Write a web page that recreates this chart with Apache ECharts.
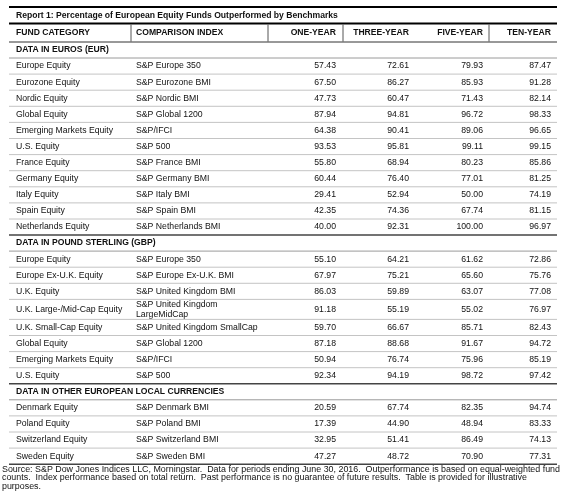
<!DOCTYPE html>
<html>
<head>
<meta charset="utf-8">
<script src="https://cdn.jsdelivr.net/npm/echarts@6/dist/echarts.min.js"></script>
<style>html,body{margin:0;padding:0;background:#fff}#c{width:566px;height:496px}</style>
</head>
<body>
<div id="c"></div>
<script>
// ---------------- DATA ----------------
const reportTitle = "Report 1: Percentage of European Equity Funds Outperformed by Benchmarks";
const columnHeaders = ["FUND CATEGORY", "COMPARISON INDEX", "ONE-YEAR", "THREE-YEAR", "FIVE-YEAR", "TEN-YEAR"];
const sectionTitles = ["DATA IN EUROS (EUR)", "DATA IN POUND STERLING (GBP)", "DATA IN OTHER EUROPEAN LOCAL CURRENCIES"];
const sectionSizes = [11, 8, 4];
const fundCategories = [
  "Europe Equity", "Eurozone Equity", "Nordic Equity", "Global Equity", "Emerging Markets Equity", "U.S. Equity",
  "France Equity", "Germany Equity", "Italy Equity", "Spain Equity", "Netherlands Equity",
  "Europe Equity", "Europe Ex-U.K. Equity", "U.K. Equity", "U.K. Large-/Mid-Cap Equity", "U.K. Small-Cap Equity",
  "Global Equity", "Emerging Markets Equity", "U.S. Equity",
  "Denmark Equity", "Poland Equity", "Switzerland Equity", "Sweden Equity"
];
const comparisonIndex = [
  "S&P Europe 350", "S&P Eurozone BMI", "S&P Nordic BMI", "S&P Global 1200", "S&P/IFCI", "S&P 500",
  "S&P France BMI", "S&P Germany BMI", "S&P Italy BMI", "S&P Spain BMI", "S&P Netherlands BMI",
  "S&P Europe 350", "S&P Europe Ex-U.K. BMI", "S&P United Kingdom BMI", "S&P United Kingdom\nLargeMidCap", "S&P United Kingdom SmallCap",
  "S&P Global 1200", "S&P/IFCI", "S&P 500",
  "S&P Denmark BMI", "S&P Poland BMI", "S&P Switzerland BMI", "S&P Sweden BMI"
];
const oneYear   = [57.43, 67.50, 47.73, 87.94, 64.38, 93.53, 55.80, 60.44, 29.41, 42.35, 40.00, 55.10, 67.97, 86.03, 91.18, 59.70, 87.18, 50.94, 92.34, 20.59, 17.39, 32.95, 47.27];
const threeYear = [72.61, 86.27, 60.47, 94.81, 90.41, 95.81, 68.94, 76.40, 52.94, 74.36, 92.31, 64.21, 75.21, 59.89, 55.19, 66.67, 88.68, 76.74, 94.19, 67.74, 44.90, 51.41, 48.72];
const fiveYear  = [79.93, 85.93, 71.43, 96.72, 89.06, 99.11, 80.23, 77.01, 50.00, 67.74, 100.00, 61.62, 65.60, 63.07, 55.02, 85.71, 91.67, 75.96, 98.72, 82.35, 48.94, 86.49, 70.90];
const tenYear   = [87.47, 91.28, 82.14, 98.33, 96.65, 99.15, 85.86, 81.25, 74.19, 81.15, 96.97, 72.86, 75.76, 77.08, 76.97, 82.43, 94.72, 85.19, 97.42, 94.74, 83.33, 74.13, 77.31];
const footnote = [
  "Source: S&P Dow Jones Indices LLC, Morningstar.  Data for periods ending June 30, 2016.  Outperformance is based on equal-weighted fund",
  "counts.  Index performance based on total return.  Past performance is no guarantee of future results.  Table is provided for illustrative",
  "purposes."
];

// ---------------- LAYOUT / STYLE ----------------
const L = {
  left: 9, right: 557, top: 7,
  hTitle: 16.5, hHeader: 18.5, hSection: 16, hRow: 16.1, hTall: 20,
  xText: [16, 136], xRight: [336, 409, 483, 551], vSep: [131, 268, 343, 489],
  footY: 469.5, footLH: 8.6, footX: 2
};
const FF = '"Liberation Sans", Arial, Helvetica, sans-serif';
const fontN = '8.7px ' + FF, fontB = 'bold 8.6px ' + FF, fontFoot = '8.9px ' + FF;

// build rows list
const valueCols = [oneYear, threeYear, fiveYear, tenYear];
const rows = [{kind: 'title', h: L.hTitle}, {kind: 'header', h: L.hHeader}];
let k = 0;
sectionTitles.forEach((s, si) => {
  rows.push({kind: 'section', text: s, h: L.hSection});
  for (let j = 0; j < sectionSizes[si]; j++, k++) {
    rows.push({kind: 'data', i: k, last: j === sectionSizes[si] - 1,
      h: comparisonIndex[k].indexOf('\n') >= 0 ? L.hTall : L.hRow});
  }
});
let yAcc = L.top;
rows.forEach(r => { r.y0 = yAcc; yAcc += r.h; r.y1 = yAcc; });

function txt(p, text, font, align) {
  return {type: 'text', style: {x: p[0], y: p[1], text: text, font: font, fill: '#111', align: align || 'left', verticalAlign: 'middle', lineHeight: 9.5}};
}
function hline(api, y, color, w) {
  const a = api.coord([L.left, y]), b = api.coord([L.right, y]);
  return {type: 'line', shape: {x1: a[0], y1: a[1], x2: b[0], y2: b[1]}, style: {stroke: color, lineWidth: w}};
}

function renderItem(params, api) {
  const r = rows[params.dataIndex];
  const yc = (r.y0 + r.y1) / 2;
  const ch = [];
  if (r.kind === 'title') {
    ch.push(hline(api, r.y0, '#000', 2));
    ch.push(txt(api.coord([L.xText[0], yc]), reportTitle, fontB));
    ch.push(hline(api, r.y1, '#000', 2));
  } else if (r.kind === 'header') {
    ch.push(txt(api.coord([L.xText[0], yc]), columnHeaders[0], fontB));
    ch.push(txt(api.coord([L.xText[1], yc]), columnHeaders[1], fontB));
    for (let c = 0; c < 4; c++) ch.push(txt(api.coord([L.xRight[c], yc]), columnHeaders[c + 2], fontB, 'right'));
    L.vSep.forEach(x => {
      const a = api.coord([x, r.y0 + 1]), b = api.coord([x, r.y1 - 0.5]);
      ch.push({type: 'line', shape: {x1: a[0], y1: a[1], x2: b[0], y2: b[1]}, style: {stroke: '#555', lineWidth: 1}});
    });
    ch.push(hline(api, r.y1, '#333', 1));
  } else if (r.kind === 'section') {
    ch.push(txt(api.coord([L.xText[0], yc]), r.text, fontB));
    ch.push(hline(api, r.y1, '#9a9a9a', 1));
  } else {
    const i = r.i;
    ch.push(txt(api.coord([L.xText[0], yc]), fundCategories[i], fontN));
    ch.push(txt(api.coord([L.xText[1], yc]), comparisonIndex[i], fontN));
    for (let c = 0; c < 4; c++) ch.push(txt(api.coord([L.xRight[c], yc]), valueCols[c][i].toFixed(2), fontN, 'right'));
    ch.push(r.last ? hline(api, r.y1, '#444', 1.5) : hline(api, r.y1, '#c4c4c4', 1));
  }
  return {type: 'group', children: ch};
}

const chart = echarts.init(document.getElementById('c'), null, {renderer: 'canvas'});
chart.setOption({
  animation: false,
  backgroundColor: '#fff',
  grid: {left: 0, right: 0, top: 0, bottom: 0},
  xAxis: {type: 'value', min: 0, max: 566, show: false},
  yAxis: {type: 'value', min: 0, max: 496, inverse: true, show: false},
  series: [{
    type: 'custom', silent: true, clip: false,
    renderItem: renderItem,
    data: rows.map((r, i) => [i, (r.y0 + r.y1) / 2])
  }],
  graphic: footnote.map((t, i) => ({
    type: 'text', left: L.footX, top: L.footY + i * L.footLH - 4.8,
    style: {text: t, font: fontFoot, fill: '#111'}
  }))
});
</script>
</body>
</html>
